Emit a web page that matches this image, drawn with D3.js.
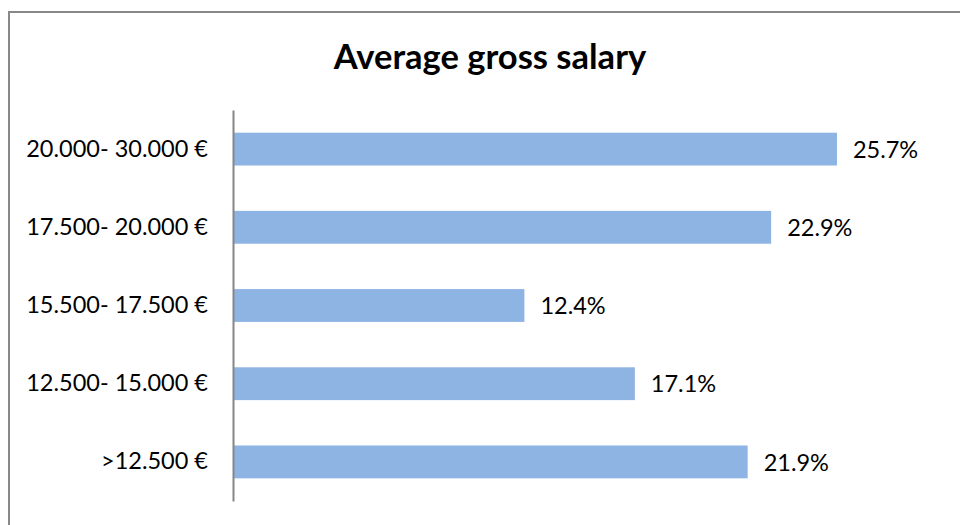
<!DOCTYPE html>
<html>
<head>
<meta charset="utf-8">
<script src="https://cdn.jsdelivr.net/npm/d3@7"></script>
<style>
  html, body { margin: 0; padding: 0; background: #fff; }
  svg { display: block; font-family: Lato, "Open Sans", sans-serif; }
</style>
</head>
<body>
<svg id="chart" width="960" height="525"></svg>
<script>
// Salary bands, top to bottom, and the share of respondents in each (%)
const categories = ["20.000- 30.000 €", "17.500- 20.000 €", "15.500- 17.500 €", "12.500- 15.000 €", ">12.500 €"];
const shares = [25.7, 22.9, 12.4, 17.1, 21.9];
const title = "Average gross salary";

const data = categories.map((c, i) => ({ category: c, value: shares[i] }));

const svg = d3.select("#chart");
const width = 960, height = 525;

// Chart-area border (open on the right and bottom)
svg.append("rect")
  .attr("x", 9).attr("y", 12)
  .attr("width", width + 20).attr("height", height + 20)
  .attr("fill", "#fff")
  .attr("stroke", "#898989")
  .attr("stroke-width", 2);

const x = d3.scaleLinear().domain([0, 30]).range([233, 938]);
const y = d3.scaleBand().domain(categories).range([110, 501]).paddingInner(0.58).paddingOuter(0.29);

svg.append("text")
  .attr("x", 490).attr("y", 69)
  .attr("text-anchor", "middle")
  .attr("font-size", 34.5)
  .attr("font-weight", 700)
  .attr("fill", "#000")
  .text(title);

svg.selectAll("rect.bar")
  .data(data)
  .join("rect")
  .attr("class", "bar")
  .attr("x", x(0))
  .attr("y", d => y(d.category))
  .attr("width", d => x(d.value) - x(0))
  .attr("height", y.bandwidth())
  .attr("fill", "#8eb4e3");

svg.selectAll("text.value")
  .data(data)
  .join("text")
  .attr("class", "value")
  .attr("x", d => x(d.value) + 16)
  .attr("y", d => y(d.category) + y.bandwidth() / 2)
  .attr("dy", "0.37em")
  .attr("font-size", 23.5)
  .attr("fill", "#000")
  .text(d => d.value.toFixed(1) + "%");

const axis = svg.append("g")
  .attr("transform", `translate(${x(0)},0)`)
  .call(d3.axisLeft(y).tickSize(0).tickPadding(25).tickSizeOuter(0));
axis.select(".domain").attr("stroke", "#868686").attr("stroke-width", 2);
axis.selectAll("text")
  .attr("font-size", 23.5)
  .attr("font-family", "Lato, 'Open Sans', sans-serif")
  .attr("fill", "#000");
</script>
</body>
</html>
